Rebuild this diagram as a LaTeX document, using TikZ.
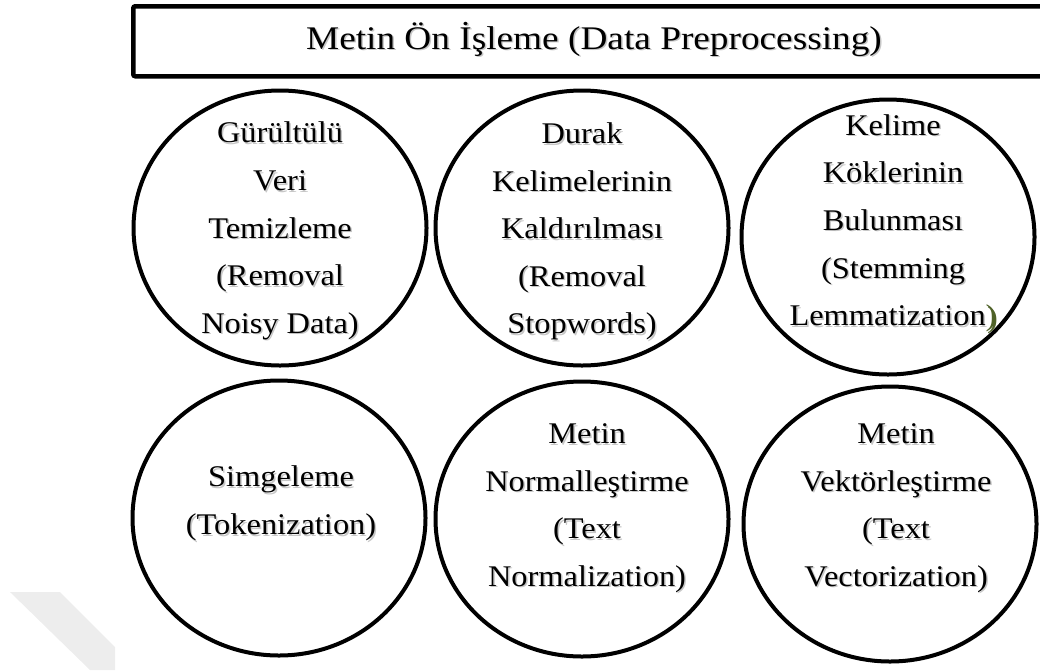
\documentclass[tikz,border=0pt]{standalone}
\usepackage{fontspec}
\setmainfont{Liberation Serif}[FakeStretch=1.08]
\newfontfamily\headfont{Liberation Serif}[FakeStretch=1.13]
\usetikzlibrary{shapes.geometric}
\definecolor{parenolive}{RGB}{79,98,40}
% invisible strut that fixes the top of the first line
\newcommand\tstrut{\rule{0pt}{30pt}}
% a label with a soft grey shadow under it
\newcommand\shadowlabel[4]{%
  \node[lbl, text=black!22, xshift=1.5pt, yshift=-1.5pt] at (#2,#3) {#4};
  \node[lbl] (#1) at (#2,#3) {#4};}
\begin{document}
\begin{tikzpicture}[x=1pt, y=-1pt,
  disc/.style={ellipse, draw, line width=4pt, minimum width=293pt,
    minimum height=275pt, inner sep=0pt},
  lbl/.style={font=\fontsize{30}{47.6}\selectfont, align=center,
    anchor=north, inner sep=0pt},
  banner/.style={draw, line width=4.5pt, rounded corners=2pt,
    minimum width=914pt, minimum height=70pt, anchor=north west, inner sep=0pt},
  headline/.style={font=\headfont\fontsize{33}{40}\selectfont, anchor=base, inner sep=0pt}]
\useasboundingbox (0,0) rectangle (1040,670);

% faint band in the lower left corner
\fill[black!7] (10,592) -- (60,592) -- (115,647) -- (115,670) -- (90,670) -- cycle;

% heading
\node[banner] (head) at (131,4) {};
\node[headline, text=black!22, xshift=1.5pt, yshift=-1.5pt] at (594,49.3)
  {Metin Ön İşleme (Data Preprocessing)};
\node[headline] (headtext) at (594,49.3) {Metin Ön İşleme (Data Preprocessing)};

% the six steps
\node[disc] (noise) at (280,228) {};
\node[disc] (stop)  at (582,228) {};
\node[disc] (stem)  at (888,237) {};
\node[disc] (token) at (279,518) {};
\node[disc] (norm)  at (582,519) {};
\node[disc] (vect)  at (890,524) {};

\shadowlabel{noiseT}{280}{112.7}{\tstrut Gürültülü\\Veri\\Temizleme\\(Removal\\Noisy Data)}
\shadowlabel{stopT}{582}{113.3}{\tstrut Durak\\Kelimelerinin\\Kaldırılması\\(Removal\\Stopwords)}
\shadowlabel{stemT}{893}{105}{\tstrut Kelime\\Köklerinin\\Bulunması\\(Stemming\\Lemmatization{\color{parenolive})}}
\shadowlabel{tokenT}{281}{456.7}{\tstrut Simgeleme\\(Tokenization)}
\shadowlabel{normT}{587}{413.3}{\tstrut Metin\\Normalleştirme\\(Text\\Normalization)}
\shadowlabel{vectT}{896}{413.3}{\tstrut Metin\\Vektörleştirme\\(Text\\Vectorization)}
\end{tikzpicture}
\end{document}
